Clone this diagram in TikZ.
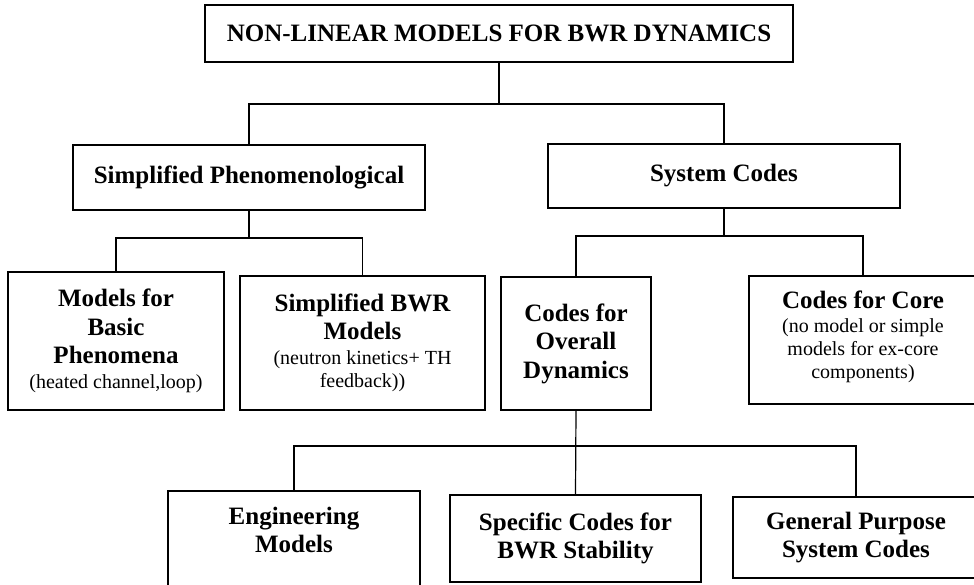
\documentclass[tikz,border=0pt]{standalone}
\usepackage{fontspec}
\setmainfont{Liberation Serif}
\newcommand{\boxfont}{\fontsize{12.5}{14.2}\selectfont\bfseries}
\newcommand{\note}[1]{{\normalfont\fontsize{10}{11.6}\selectfont #1}}
\tikzset{class box/.style={draw,rectangle,line width=0.6pt,inner sep=0pt,align=center,font=\boxfont}}
\tikzset{tree line/.style={line width=0.6pt}}

\begin{document}
\begin{tikzpicture}[x=0.5pt,y=-0.5pt]
\useasboundingbox (0,0) rectangle (974,584);
\clip (0,0) rectangle (974,584);

% boxes
\node[class box,minimum width=294pt,minimum height=28.5pt] (top) at (499,33.5)
    {NON-LINEAR MODELS FOR BWR DYNAMICS};
\node[class box,minimum width=176pt,minimum height=32.5pt] (sp) at (249,177.5)
    {Simplified Phenomenological};
\node[class box,minimum width=176pt,minimum height=32pt] (sc) at (724,176)
    {System Codes};
\node[class box,minimum width=108pt,minimum height=69pt] (mbp) at (116,341)
    {Models for\\Basic\\Phenomena\\[-1.7pt]\note{(heated channel,loop)}};
\node[class box,minimum width=122.5pt,minimum height=67pt] (sbwr) at (362.5,343)
    {Simplified BWR\\Models\\[-1.9pt]\note{(neutron kinetics+ TH}\\[-2.4pt]\note{feedback))}};
\node[class box,minimum width=75pt,minimum height=66.5pt] (cod) at (576,343.5)
    {Codes for\\Overall\\Dynamics};
\node[class box,minimum width=114pt,minimum height=64pt] (cfc) at (863,340)
    {Codes for Core\\[-2.2pt]\note{(no model or simple}\\[-2.6pt]\note{models for ex-core}%
     \\[-2.6pt]\note{components)}\\[-9pt]\mbox{}};
\node[class box,minimum width=126pt,minimum height=48pt] (eng) at (294,539)
    {Engineering\\Models\\[-5.2pt]\mbox{}};
\node[class box,minimum width=125.5pt,minimum height=43.5pt] (spc) at (575.5,538.5)
    {Specific Codes for\\BWR Stability};
\node[class box,minimum width=123pt,minimum height=40.5pt] (gp) at (856,537.5)
    {General Purpose\\System Codes};

% junctions
\coordinate (j1) at (499,104);
\coordinate (j2) at (249,238);
\coordinate (j3) at (724,236);
\coordinate (j4) at (576,446);

% connectors
\draw[tree line] (top.south) -- (j1);
\draw[tree line] (sp.north) |- (j1) -| (sc.north);
\draw[tree line] (sp.south) -- (j2);
\draw[tree line] (mbp.north) |- (j2) -| (sbwr.north);
\draw[tree line] (sc.south) -- (j3);
\draw[tree line] (cod.north) |- (j3) -| (cfc.north);
\draw[tree line] (cod.south) -- (spc.north);
\draw[tree line] (eng.north) |- (j4) -| (gp.north);

\end{tikzpicture}
\end{document}
